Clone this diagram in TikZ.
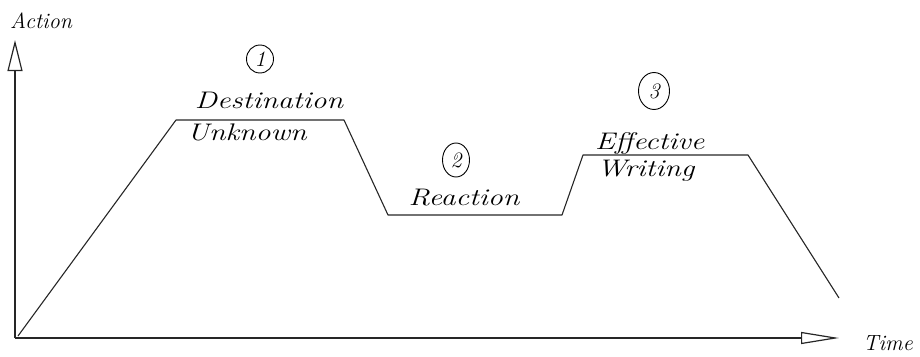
\documentclass[tikz,border=0pt]{standalone}
\usepackage{graphicx}
\usetikzlibrary{arrows.meta,shapes.geometric}
\newcommand\hwtext[1]{\scalebox{1.25}[1]{#1}}
\begin{document}
\begin{tikzpicture}[x=1pt,y=-1pt,
  axis/.style={line width=1.3pt, draw=black!85},
  curve/.style={line width=1.1pt, draw=black!85, line join=round},
  hand/.style={font=\fontsize{24}{28}\selectfont\itshape, inner sep=0pt},
  small/.style={font=\fontsize{22}{26}\selectfont\itshape, inner sep=0pt},
  num/.style={draw, line width=0.9pt, ellipse, inner sep=0pt, font=\fontsize{22}{26}\selectfont\itshape}
]
\useasboundingbox (0,0) rectangle (920,356);
% axes
\coordinate (O) at (15,338);
\coordinate (ytop) at (15,40);
\coordinate (xend) at (839,338);
\draw[axis, -{Triangle[open, length=31pt, width=15pt, line width=1.2pt]}] (O) -- (ytop);
\draw[axis, -{Triangle[open, length=38pt, width=12pt, line width=1.2pt]}] (O) -- (xend);
\node[small, anchor=base west] (action) at (10,28) {Action};
\node[small, anchor=base west] (time) at (863,350) {Time};
% curve
\coordinate (p0) at (18,336);
\coordinate (p1) at (176,120);
\coordinate (p2) at (344,120);
\coordinate (p3) at (388,215);
\coordinate (p4) at (562,215);
\coordinate (p5) at (583,155);
\coordinate (p6) at (748,155);
\coordinate (p7) at (839,298);
\draw[curve] (p0) -- (p1) -- (p2) -- (p3) -- (p4) -- (p5) -- (p6) -- (p7);
% labels
\node[num, minimum width=27pt, minimum height=28pt] (n1) at (260,59) {1};
\node[hand, anchor=base] (dest) at (269,108) {\hwtext{Destination}};
\node[hand, anchor=base west] (unk) at (187,140) {\hwtext{Unknown}};
\node[num, minimum width=27pt, minimum height=34pt] (n2) at (456,160) {2};
\node[hand, anchor=base] (react) at (464,205) {\hwtext{Reaction}};
\node[num, minimum width=31pt, minimum height=37pt] (n3) at (654,91) {3};
\node[hand, anchor=base west] (eff) at (595,149) {\hwtext{Effective}};
\node[hand, anchor=base west] (writ) at (597,176) {\hwtext{Writing}};
\end{tikzpicture}
\end{document}
